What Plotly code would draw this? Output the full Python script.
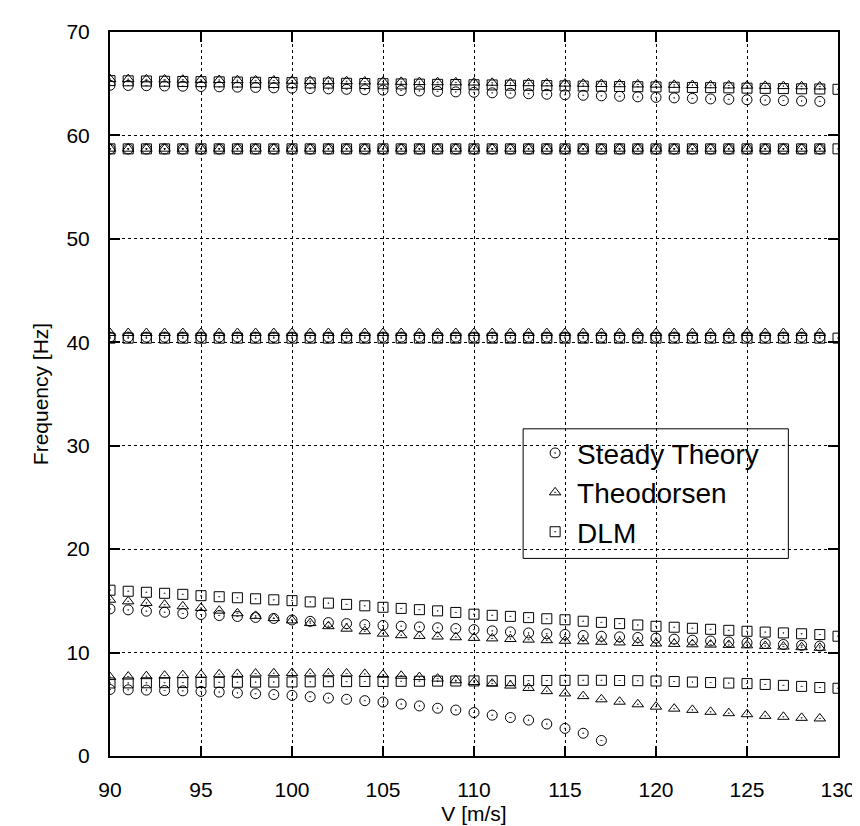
import plotly.graph_objects as go

V = [90, 91, 92, 93, 94, 95, 96, 97, 98, 99, 100, 101, 102, 103, 104, 105, 106, 107, 108, 109,
     110, 111, 112, 113, 114, 115, 116, 117, 118, 119, 120, 121, 122, 123, 124, 125, 126, 127, 128, 129, 130]

# ---- Steady Theory (circles) ----
steady_m1 = [6.43, 6.40, 6.37, 6.33, 6.30, 6.25, 6.18, 6.10, 6.02, 5.94,
             5.86, 5.73, 5.60, 5.48, 5.35, 5.22, 5.02, 4.84, 4.62, 4.44,
             4.20, 3.95, 3.72, 3.47, 3.09, 2.67, 2.20, 1.50]
steady_m2 = [14.22, 14.13, 14.00, 13.90, 13.78, 13.68, 13.58, 13.49, 13.40, 13.30,
             13.15, 13.02, 12.90, 12.80, 12.70, 12.62, 12.55, 12.48, 12.40, 12.32,
             12.22, 12.10, 12.00, 11.90, 11.82, 11.75, 11.65, 11.58, 11.52, 11.46,
             11.40, 11.30, 11.20, 11.12, 11.03, 10.95, 10.87, 10.78, 10.70, 10.63]
steady_m3 = [40.50, 40.50, 40.50, 40.50, 40.50, 40.50, 40.50, 40.50, 40.50, 40.50,
             40.50, 40.50, 40.50, 40.50, 40.50, 40.50, 40.50, 40.50, 40.50, 40.50,
             40.50, 40.50, 40.50, 40.50, 40.50, 40.50, 40.50, 40.50, 40.50, 40.50,
             40.50, 40.50, 40.50, 40.50, 40.50, 40.50, 40.50, 40.50, 40.50, 40.50]
steady_m4 = [58.68, 58.68, 58.68, 58.68, 58.68, 58.68, 58.68, 58.68, 58.68, 58.68,
             58.68, 58.68, 58.68, 58.68, 58.68, 58.68, 58.68, 58.68, 58.68, 58.68,
             58.68, 58.68, 58.68, 58.68, 58.68, 58.68, 58.68, 58.68, 58.68, 58.68,
             58.68, 58.68, 58.68, 58.68, 58.68, 58.68, 58.68, 58.68, 58.68, 58.68]
steady_m5 = [64.85, 64.83, 64.81, 64.78, 64.76, 64.73, 64.70, 64.67, 64.64, 64.60,
             64.57, 64.53, 64.50, 64.46, 64.42, 64.38, 64.34, 64.30, 64.26, 64.21,
             64.17, 64.12, 64.08, 64.03, 63.98, 63.93, 63.88, 63.83, 63.78, 63.73,
             63.68, 63.63, 63.58, 63.53, 63.49, 63.45, 63.41, 63.37, 63.33, 63.29]

# ---- Theodorsen (triangles) ----
theo_m1 = [7.63, 7.68, 7.72, 7.77, 7.82, 7.86, 7.90, 7.94, 7.97, 8.00,
           8.02, 7.99, 8.00, 7.98, 7.94, 7.86, 7.76, 7.63, 7.48, 7.32,
           7.16, 7.00, 6.81, 6.58, 6.27, 6.05, 5.79, 5.48, 5.25, 5.00,
           4.77, 4.58, 4.46, 4.27, 4.14, 4.04, 3.88, 3.79, 3.69, 3.63]
theo_m2 = [15.11, 14.95, 14.80, 14.63, 14.47, 14.31, 14.05, 13.80, 13.55, 13.33,
           13.11, 12.85, 12.55, 12.31, 12.06, 11.83, 11.68, 11.61, 11.55, 11.48,
           11.42, 11.37, 11.31, 11.25, 11.20, 11.14, 11.09, 11.04, 10.98, 10.93,
           10.88, 10.84, 10.80, 10.77, 10.74, 10.70, 10.64, 10.58, 10.52, 10.46]
theo_m3 = [40.90, 40.90, 40.90, 40.90, 40.90, 40.90, 40.90, 40.90, 40.90, 40.90,
           40.90, 40.90, 40.90, 40.90, 40.90, 40.90, 40.90, 40.90, 40.90, 40.90,
           40.90, 40.90, 40.90, 40.90, 40.90, 40.90, 40.90, 40.90, 40.90, 40.90,
           40.90, 40.90, 40.90, 40.90, 40.90, 40.90, 40.90, 40.90, 40.90, 40.90]
theo_m4 = [58.72, 58.72, 58.72, 58.72, 58.72, 58.72, 58.72, 58.72, 58.72, 58.72,
           58.72, 58.72, 58.72, 58.72, 58.72, 58.72, 58.72, 58.72, 58.72, 58.72,
           58.72, 58.72, 58.72, 58.72, 58.72, 58.72, 58.72, 58.72, 58.72, 58.72,
           58.72, 58.72, 58.72, 58.72, 58.72, 58.72, 58.72, 58.72, 58.72, 58.72]
theo_m5 = [65.45, 65.44, 65.42, 65.41, 65.39, 65.37, 65.36, 65.34, 65.32, 65.31,
           65.29, 65.27, 65.25, 65.24, 65.22, 65.20, 65.18, 65.16, 65.14, 65.13,
           65.11, 65.09, 65.07, 65.05, 65.03, 65.01, 64.99, 64.97, 64.95, 64.93,
           64.91, 64.89, 64.87, 64.85, 64.83, 64.81, 64.79, 64.77, 64.75, 64.73]

# ---- DLM (squares) ----
dlm_m1 = [7.06, 7.07, 7.08, 7.09, 7.10, 7.11, 7.12, 7.13, 7.14, 7.15,
          7.16, 7.17, 7.18, 7.19, 7.20, 7.21, 7.22, 7.23, 7.24, 7.25,
          7.26, 7.27, 7.28, 7.29, 7.30, 7.31, 7.32, 7.32, 7.30, 7.28,
          7.25, 7.20, 7.15, 7.10, 7.05, 7.00, 6.92, 6.83, 6.73, 6.62, 6.55]
dlm_m2 = [16.03, 15.93, 15.83, 15.73, 15.63, 15.50, 15.40, 15.30, 15.20, 15.10,
          15.02, 14.90, 14.78, 14.66, 14.52, 14.38, 14.27, 14.15, 14.03, 13.88,
          13.71, 13.60, 13.50, 13.38, 13.27, 13.17, 13.03, 12.92, 12.80, 12.67,
          12.54, 12.45, 12.35, 12.25, 12.15, 12.06, 11.98, 11.90, 11.82, 11.74, 11.58]
dlm_m3 = [40.40, 40.40, 40.40, 40.40, 40.40, 40.40, 40.40, 40.40, 40.40, 40.40,
          40.40, 40.40, 40.40, 40.40, 40.40, 40.40, 40.40, 40.40, 40.40, 40.40,
          40.40, 40.40, 40.40, 40.40, 40.40, 40.40, 40.40, 40.40, 40.40, 40.40,
          40.40, 40.40, 40.40, 40.40, 40.40, 40.40, 40.40, 40.40, 40.40, 40.40, 40.40]
dlm_m4 = [58.70, 58.70, 58.70, 58.70, 58.70, 58.70, 58.70, 58.70, 58.70, 58.70,
          58.70, 58.70, 58.70, 58.70, 58.70, 58.70, 58.70, 58.70, 58.70, 58.70,
          58.70, 58.70, 58.70, 58.70, 58.70, 58.70, 58.70, 58.70, 58.70, 58.70,
          58.70, 58.70, 58.70, 58.70, 58.70, 58.70, 58.70, 58.70, 58.70, 58.70, 58.70]
dlm_m5 = [65.30, 65.28, 65.26, 65.24, 65.22, 65.20, 65.18, 65.16, 65.14, 65.12,
          65.10, 65.08, 65.06, 65.04, 65.02, 65.00, 64.98, 64.96, 64.94, 64.92,
          64.90, 64.88, 64.86, 64.84, 64.82, 64.79, 64.77, 64.75, 64.73, 64.71,
          64.69, 64.66, 64.64, 64.62, 64.60, 64.57, 64.55, 64.53, 64.51, 64.49, 64.46]

x_ticks = [90, 95, 100, 105, 110, 115, 120, 125, 130]
y_ticks = [0, 10, 20, 30, 40, 50, 60, 70]

series = [
    ("Steady Theory", "circle-open-dot", [steady_m1, steady_m2, steady_m3, steady_m4, steady_m5]),
    ("Theodorsen", "triangle-up-open-dot", [theo_m1, theo_m2, theo_m3, theo_m4, theo_m5]),
    ("DLM", "square-open-dot", [dlm_m1, dlm_m2, dlm_m3, dlm_m4, dlm_m5]),
]

FONT = "Liberation Sans, Arial, sans-serif"
fig = go.Figure()
for name, sym, modes in series:
    xs, ys = [], []
    for m in modes:
        xs += V[:len(m)]
        ys += m
    fig.add_trace(go.Scatter(
        x=xs, y=ys, mode="markers", name=name,
        marker=dict(symbol=sym, size=10, color="black", line=dict(width=1, color="black")),
    ))

axis_common = dict(
    showline=True, linecolor="black", linewidth=2, mirror="ticks",
    ticks="inside", ticklen=10, tickwidth=1.5, tickcolor="black",
    showgrid=True, gridcolor="black", griddash="dot", gridwidth=1,
    zeroline=False, tickfont=dict(family=FONT, size=21, color="black"),
)

# legend frame (paper coordinates)
fig.add_shape(type="rect", xref="paper", yref="paper",
              x0=0.5675, x1=0.9318, y0=0.2729, y1=0.4519,
              line=dict(color="black", width=1), fillcolor="rgba(0,0,0,0)")

fig.update_layout(
    width=860, height=826,
    margin=dict(l=102, r=25, t=17, b=75),
    paper_bgcolor="white", plot_bgcolor="white",
    font=dict(family=FONT, color="black"),
    xaxis=dict(range=[90, 130], tickvals=x_ticks, ticklabelstandoff=14,
               title=dict(text="V [m/s]", font=dict(family=FONT, size=21), standoff=6),
               **axis_common),
    yaxis=dict(range=[0, 70], tickvals=y_ticks, ticklabelstandoff=14,
               title=dict(text="Frequency [Hz]", font=dict(family=FONT, size=21), standoff=12),
               **axis_common),
    legend=dict(x=0.5812, y=0.4527, xanchor="left", yanchor="top",
                bgcolor="rgba(0,0,0,0)", borderwidth=0,
                font=dict(family=FONT, size=28, color="black"),
                itemwidth=34, tracegroupgap=0),
    showlegend=True,
)

fig.write_html("out.html")
